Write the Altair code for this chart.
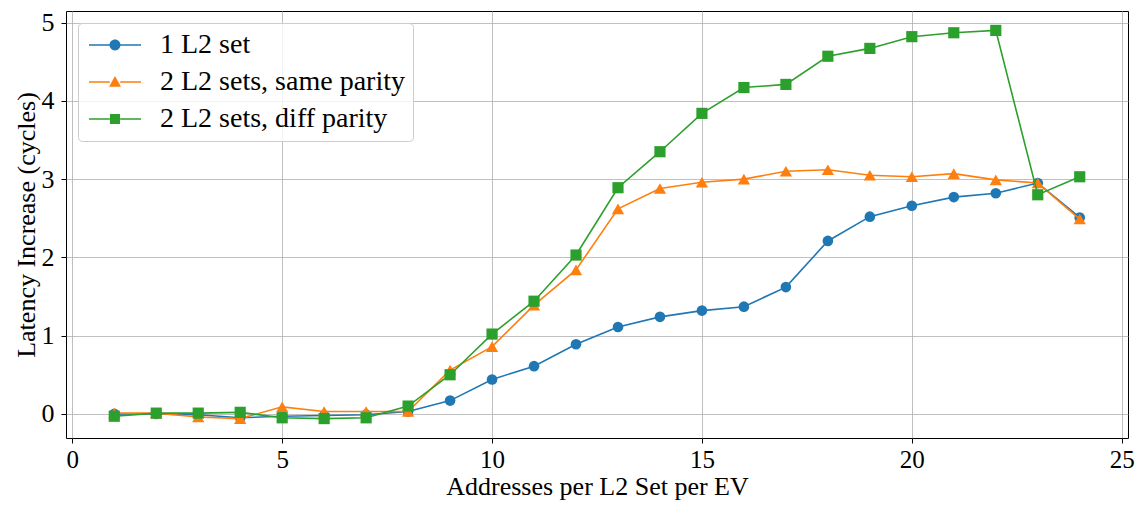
import altair as alt
import pandas as pd

x_vals = list(range(1, 25))
one_set = [0.0, 0.0, -0.01, -0.05, -0.03, -0.02, -0.01, 0.03, 0.17, 0.44, 0.61, 0.89,
           1.11, 1.24, 1.32, 1.37, 1.62, 2.21, 2.52, 2.66, 2.77, 2.82, 2.95, 2.51]
same_parity = [0.01, 0.01, -0.04, -0.06, 0.09, 0.03, 0.03, 0.03, 0.56, 0.86, 1.39, 1.84,
               2.62, 2.88, 2.96, 3.0, 3.1, 3.12, 3.05, 3.03, 3.07, 2.99, 2.95, 2.49]
diff_parity = [-0.03, 0.01, 0.01, 0.02, -0.05, -0.06, -0.05, 0.1, 0.5, 1.02, 1.44, 2.03,
               2.89, 3.35, 3.84, 4.17, 4.21, 4.57, 4.67, 4.82, 4.87, 4.9, 2.8, 3.03]

series_names = ["1 L2 set", "2 L2 sets, same parity", "2 L2 sets, diff parity"]
series_colors = ["#1f77b4", "#ff7f0e", "#2ca02c"]
series_shapes = ["circle", "triangle-up", "square"]
series_sizes = [113, 150, 125]
x_ticks = [0, 5, 10, 15, 20, 25]
y_ticks = [0, 1, 2, 3, 4, 5]

# legend symbols: line segment + marker (path unit = half the symbol column width)
bar_l = "M-2,-0.06L-0.4,-0.06L-0.4,0.06L-2,0.06Z"
bar_r = "M0.4,-0.06L2,-0.06L2,0.06L0.4,0.06Z"
legend_paths = [
    bar_l + bar_r + "M-0.42,0A0.42,0.42 0 1,1 0.42,0A0.42,0.42 0 1,1 -0.42,0Z",
    bar_l + bar_r + "M0,-0.46L0.46,0.36L-0.46,0.36Z",
    bar_l + bar_r + "M-0.39,-0.39L0.39,-0.39L0.39,0.39L-0.39,0.39Z",
]
LEG_SIZE = 676

rows = []
for name, vals in zip(series_names, [one_set, same_parity, diff_parity]):
    for i, (xv, yv) in enumerate(zip(x_vals, vals)):
        rows.append({"series": name, "x": xv, "y": yv, "i": i})
df = pd.DataFrame(rows)

FONT = "Liberation Serif"
xscale = alt.Scale(domain=[-0.15, 25.15], nice=False, zero=False)
yscale = alt.Scale(domain=[-0.308, 5.148], nice=False, zero=False)

xenc = alt.X("x:Q", scale=xscale,
             axis=alt.Axis(values=x_ticks, title="Addresses per L2 Set per EV",
                           format="d"))
yenc = alt.Y("y:Q", scale=yscale,
             axis=alt.Axis(values=y_ticks, title="Latency Increase (cycles)",
                           format="d"))

base = alt.Chart(df)
layers = []
for name, col, shp, sz in zip(series_names, series_colors, series_shapes, series_sizes):
    sub = base.transform_filter(alt.datum.series == name)
    layers.append(sub.mark_line(color=col, strokeWidth=1.6).encode(
        x=xenc, y=yenc, order="i:Q"))
    layers.append(sub.mark_point(filled=True, opacity=1, color=col, shape=shp, size=sz,
                                 strokeWidth=0).encode(x=xenc, y=yenc))

def make_legend():
    return alt.Legend(
        title=None, orient="top-left", offset=12,
        fillColor="rgba(255,255,255,0.8)", strokeColor="#cccccc",
        cornerRadius=4, padding=8, symbolSize=LEG_SIZE, symbolOffset=15,
        symbolStrokeWidth=0, labelFont=FONT, labelFontSize=28,
        labelColor="black", labelOffset=31, rowPadding=9,
        labelLimit=500)

legend_layer = base.transform_filter("false").mark_point(
    filled=True, opacity=1, size=LEG_SIZE, strokeWidth=0
).encode(
    x=xenc, y=yenc,
    color=alt.Color("series:N",
                    scale=alt.Scale(domain=series_names, range=series_colors),
                    legend=make_legend()),
    shape=alt.Shape("series:N",
                    scale=alt.Scale(domain=series_names, range=legend_paths),
                    legend=make_legend()),
)

chart = alt.layer(*layers, legend_layer).properties(
    width=1062, height=427,
    autosize=alt.AutoSizeParams(type="none"),
    padding={"left": 58, "top": 3, "right": 7, "bottom": 62},
).configure_view(
    stroke="black", strokeWidth=1
).configure_axis(
    labelFont=FONT, labelFontSize=26, labelColor="black",
    titleFont=FONT, titleFontSize=26, titleColor="black", titleFontWeight="normal",
    domain=False, tickColor="black", tickSize=5, tickWidth=1,
    grid=True, gridColor="#b0b0b0", gridWidth=0.8,
).configure_axisX(
    labelFontSize=25, labelPadding=4, titlePadding=1,
).configure_axisY(
    labelPadding=7, titlePadding=2,
)

chart.save("out.html", embed_options={"renderer": "svg", "actions": False})
